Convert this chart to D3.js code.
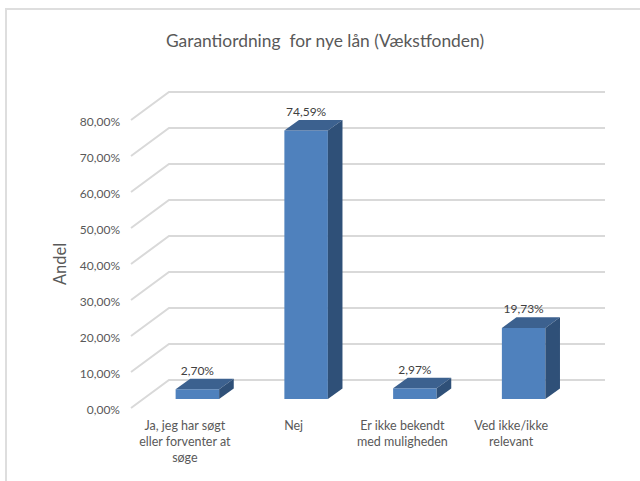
<!DOCTYPE html>
<html>
<head>
<meta charset="utf-8">
<script src="https://cdnjs.cloudflare.com/ajax/libs/d3/7.8.5/d3.min.js"></script>
<style>
    html, body { margin: 0; padding: 0; background: #fff; }
    svg { display: block; }
    text { font-family: Lato, "Open Sans", sans-serif; }
</style>
</head>
<body>
<svg id="chart"></svg>
<script>
const categories = ["Ja", "Nej", "Er", "Ved"];
const categoryLines = [
    ["Ja, jeg har søgt", "eller forventer at", "søge"],
    ["Nej"],
    ["Er ikke bekendt", "med muligheden"],
    ["Ved ikke/ikke", "relevant"]
];
const values = [2.70, 74.59, 2.97, 19.73];
const yTicks = [0, 10, 20, 30, 40, 50, 60, 70, 80];

const width = 640, height = 481;
const depthFloor = { dx: 38, dy: -28 };   // front edge of the floor to back wall
const barDepth = { dx: 14.6, dy: -10.6 };
const textColor = "#595959";

const svg = d3.select("#chart").attr("width", width).attr("height", height);

// outer chart frame, runs off the right and bottom of the picture
svg.append("path")
    .attr("d", `M6,${height}V9H${width}`)
    .attr("fill", "none")
    .attr("stroke", "#dedede")
    .attr("stroke-width", 2);

svg.append("text")
    .attr("x", 325)
    .attr("y", 47)
    .attr("text-anchor", "middle")
    .attr("font-size", 17.4)
    .attr("fill", textColor)
    .attr("xml:space", "preserve")
    .text("Garantiordning  for nye lån (Vækstfonden)");

// front plane of the axis
const yFront = d3.scaleLinear().domain([0, 80]).range([408, 120]);
const x = d3.scaleBand()
    .domain(categories)
    .range([143, 578])
    .paddingInner(0.6)
    .paddingOuter(0.3);

// gridlines: diagonal on the side wall, then flat along the back wall
const grid = svg.append("g");
grid.selectAll("path")
    .data(yTicks)
    .enter()
    .append("path")
    .attr("d", d => {
        const y0 = yFront(d);
        return `M131,${y0}L${131 + depthFloor.dx},${y0 + depthFloor.dy}H605`;
    })
    .attr("fill", "none")
    .attr("stroke", "#d9d9d9")
    .attr("stroke-width", 2);

const yAxis = d3.axisLeft(yFront)
    .tickValues(yTicks)
    .tickSize(0)
    .tickPadding(0)
    .tickFormat(d => d.toFixed(2).replace(".", ",") + "%");

const yAxisG = svg.append("g")
    .attr("transform", "translate(120,1.5)")
    .call(yAxis);
yAxisG.select(".domain").remove();
yAxisG.selectAll("text")
    .attr("font-size", 12)
    .attr("fill", textColor)
    .style("font-family", "Lato, 'Open Sans', sans-serif");

svg.append("text")
    .attr("transform", "translate(66,264) rotate(-90)")
    .attr("text-anchor", "middle")
    .attr("font-size", 16.5)
    .attr("fill", textColor)
    .text("Andel");

// bars stand a little in front of the back wall
const barBase = 399;
const barHeight = d => yFront(0) - yFront(d);

const bars = svg.append("g").selectAll("g")
    .data(values)
    .enter()
    .append("g")
    .attr("transform", (d, i) => `translate(${x(categories[i])},${barBase})`);

const bw = x.bandwidth();

bars.append("rect")
    .attr("x", 0)
    .attr("y", d => -barHeight(d))
    .attr("width", bw)
    .attr("height", d => barHeight(d))
    .attr("fill", "#4f81bd");

bars.append("path")
    .attr("d", d => {
        const t = -barHeight(d);
        return `M0,${t}L${barDepth.dx},${t + barDepth.dy}H${bw + barDepth.dx}L${bw},${t}Z`;
    })
    .attr("fill", "#3c618f");

bars.append("path")
    .attr("d", d => {
        const t = -barHeight(d);
        return `M${bw},${t}L${bw + barDepth.dx},${t + barDepth.dy}V${barDepth.dy}L${bw},0Z`;
    })
    .attr("fill", "#2f5078");

bars.append("text")
    .attr("x", bw / 2)
    .attr("y", d => -barHeight(d) - 14.5)
    .attr("text-anchor", "middle")
    .attr("font-size", 12)
    .attr("fill", "#404040")
    .text(d => d.toFixed(2).replace(".", ",") + "%");

// category labels sit on the front edge, so left of the bars
const labels = svg.append("g").selectAll("text")
    .data(categoryLines)
    .enter()
    .append("text")
    .attr("text-anchor", "middle")
    .attr("font-size", 12.5)
    .attr("fill", textColor)
    .attr("transform", (d, i) => `translate(${x(categories[i]) + bw / 2 - 12.5},430)`);

labels.selectAll("tspan")
    .data(d => d)
    .enter()
    .append("tspan")
    .attr("x", 0)
    .attr("dy", (d, i) => i === 0 ? 0 : 16)
    .text(d => d);
</script>
</body>
</html>
